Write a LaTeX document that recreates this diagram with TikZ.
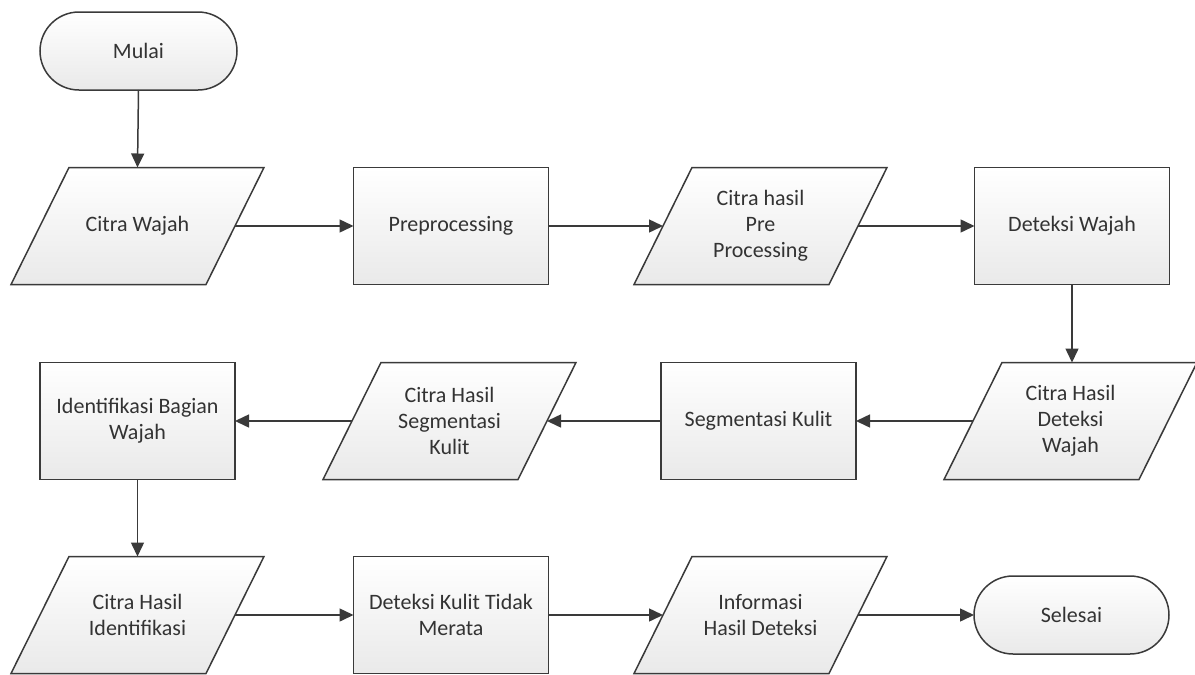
\documentclass[tikz,border=0pt]{standalone}
\usepackage{fontspec}
\setmainfont{Carlito}
\usetikzlibrary{arrows.meta,calc,backgrounds}
\definecolor{ink}{HTML}{3A3A3A}
\definecolor{txt}{HTML}{333333}
\begin{document}
\begin{tikzpicture}[x=1pt,y=-1pt,
  base/.style={minimum width=195pt, minimum height=117pt, inner sep=0pt, outer sep=0pt,
    align=center, text=txt, font=\fontsize{22}{26}\selectfont},
  procbox/.style={base, draw=ink, line width=1.5pt, top color=white, bottom color=gray!17},
  iobox/.style={base},
  termbox/.style={base, minimum height=78pt, minimum width=197pt, rounded corners=39pt,
    draw=ink, line width=1.5pt, top color=white, bottom color=gray!17},
  iofill/.style={draw=ink, line width=1.5pt, top color=white, bottom color=gray!17, line join=miter},
  flow/.style={draw=ink, line width=1.5pt, -{Triangle[length=14pt,width=13pt]}}
]
\useasboundingbox (0,0) rectangle (1195,675);

% start / end
\node[termbox] (mulai) at (138.5,51) {Mulai};
\node[termbox, minimum width=195pt] (sel) at (1071.5,615) {Selesai};

% row 1
\node[iobox]   (cw)  at (137.5,226) {Citra Wajah};
\node[procbox] (pre) at (451,226)   {Preprocessing};
\node[iobox]   (chp) at (760.5,226) {Citra hasil\\Pre\\Processing};
\node[procbox] (dw)  at (1072,226)  {Deteksi Wajah};

% row 2
\node[iobox]   (chdw) at (1070.5,421) {Citra Hasil\\Deteksi\\Wajah};
\node[procbox] (sk)   at (758.5,421)  {Segmentasi Kulit};
\node[iobox]   (chs)  at (449.5,421)  {Citra Hasil\\Segmentasi\\Kulit};
\node[procbox] (ibw)  at (137.5,421)  {Identifikasi Bagian\\Wajah};

% row 3
\node[iobox]   (chi) at (137.5,615) {Citra Hasil\\Identifikasi};
\node[procbox] (dkt) at (451,615)   {Deteksi Kulit Tidak\\Merata};
\node[iobox]   (ihd) at (760.5,615) {Informasi\\Hasil Deteksi};

% parallelogram outlines for the data nodes
\begin{scope}[on background layer]
  \foreach \n in {cw,chp,chdw,chs,chi,ihd}{
    \path[iofill] ($(\n.north west)+(29,0)$) -- ($(\n.north east)+(29,0)$)
      -- ($(\n.south east)+(-29,0)$) -- ($(\n.south west)+(-29,0)$) -- cycle;
  }
\end{scope}

% connectors
\draw[flow] (mulai.south) -- (cw.north);
\draw[flow] (cw.east) -- (pre.west);
\draw[flow] (pre.east) -- (chp.west);
\draw[flow] (chp.east) -- (dw.west);
\draw[flow] (dw.south) -- (dw.south |- chdw.north);
\draw[flow] (chdw.west) -- (sk.east);
\draw[flow] (sk.west) -- (chs.east);
\draw[flow] (chs.west) -- (ibw.east);
\draw[flow] (ibw.south) -- (chi.north);
\draw[flow] (chi.east) -- (dkt.west);
\draw[flow] (dkt.east) -- (ihd.west);
\draw[flow] (ihd.east) -- (sel.west);
\end{tikzpicture}
\end{document}
